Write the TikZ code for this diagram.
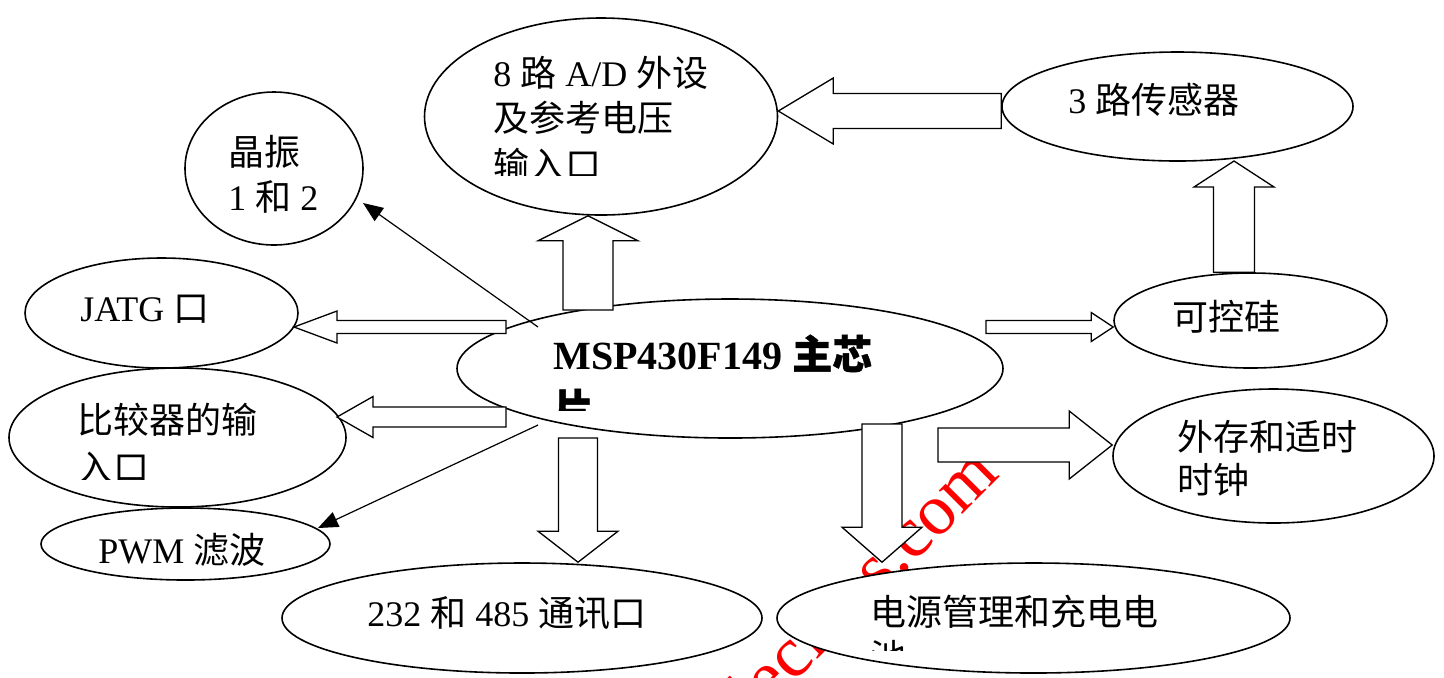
\documentclass[tikz,border=0pt]{standalone}
\usepackage{fontspec}
\setmainfont{Liberation Serif}
\newfontfamily\zh{Noto Sans CJK SC}
\newfontfamily\zhb[FakeBold=1]{Noto Sans CJK SC}
\usetikzlibrary{shapes.geometric,calc,arrows.meta}
\tikzset{
  ell/.style={draw, ellipse, fill=white, line width=0.8pt, inner sep=0pt},
  lbl/.style={anchor=base west, inner sep=0pt, font=\fontsize{18pt}{23pt}\selectfont},
  mainlbl/.style={anchor=base west, inner sep=0pt, font=\fontsize{20pt}{24pt}\selectfont\bfseries},
  barrow/.style={draw, fill=white, line width=0.65pt, line join=miter},
  tline/.style={line width=0.6pt, -{Triangle[length=10pt,width=8pt]}},
  wmark/.style={text=red, inner sep=0pt, font=\fontsize{36pt}{40pt}\selectfont}
}
% #1 start, #2 tip, #3 shaft half width, #4 head half width, #5 head length
\newcommand\blockarrow[5]{%
  \draw[barrow] let \p1=(#1), \p2=(#2), \n1={atan2(\y2-\y1,\x2-\x1)} in
    ($(\p1)+({\n1+90}:#3)$)
    -- ($(\p2)+({\n1+180}:#5)+({\n1+90}:#3)$)
    -- ($(\p2)+({\n1+180}:#5)+({\n1+90}:#4)$)
    -- (\p2)
    -- ($(\p2)+({\n1+180}:#5)+({\n1-90}:#4)$)
    -- ($(\p2)+({\n1+180}:#5)+({\n1-90}:#3)$)
    -- ($(\p1)+({\n1-90}:#3)$) -- cycle;}
\begin{document}
\begin{tikzpicture}[x=0.5pt,y=-0.5pt]
\fill[white] (0,0) rectangle (1444,677);
\useasboundingbox (0,0) rectangle (1444,677);

% watermark (behind everything)
\node[wmark, rotate=45] (wm) at (790,652) {www.elecfans.com};

% ellipses
\node[ell, minimum width=176.5pt, minimum height=98.5pt] (ad)   at (601,116.5) {};
\node[ell, minimum width=89pt,    minimum height=76.5pt] (xtal) at (274,168.5) {};
\node[ell, minimum width=175.5pt, minimum height=54.5pt] (sen)  at (1177.5,106.5) {};
\node[ell, minimum width=136.5pt, minimum height=47.5pt] (scr)  at (1250.5,320.5) {};
\node[ell, minimum width=136.5pt, minimum height=55pt]   (jatg) at (161.5,313) {};
\node[ell, minimum width=168.5pt, minimum height=69.5pt] (cmp)  at (177.5,437.5) {};
\node[ell, minimum width=144.5pt, minimum height=36pt]   (pwm)  at (185.5,544) {};
\node[ell, minimum width=240pt,   minimum height=55pt]   (com)  at (522,618) {};
\node[ell, minimum width=256.5pt, minimum height=55pt]   (pwr)  at (1033.5,618) {};
\node[ell, minimum width=160.5pt, minimum height=67pt]   (ext)  at (1273.5,456) {};
\node[ell, minimum width=273pt,   minimum height=69.5pt] (main) at (730,368.5) {};

% block arrows
\blockarrow{588,310}{588,0 |- ad.south}{12.5pt}{25pt}{12.5pt}
\blockarrow{sen.west |- 0,111}{ad.east |- 0,111}{8.75pt}{16.5pt}{27.5pt}
\blockarrow{1234,0 |- scr.north}{1234,161}{10.25pt}{20pt}{13pt}
\blockarrow{986,327}{scr.west |- 0,327}{3.25pt}{7.25pt}{11pt}
\blockarrow{938,445}{ext.west |- 0,445}{8.5pt}{17pt}{21.5pt}
\blockarrow{882,424}{882,0 |- pwr.north}{10pt}{20pt}{17.5pt}
\blockarrow{578,438}{578,0 |- com.north}{9.75pt}{20pt}{15.5pt}
\blockarrow{506,327}{294,327}{3.25pt}{8pt}{21.5pt}
\blockarrow{506,417}{337,417}{5pt}{10.25pt}{18pt}

% labels
\node[lbl] (tad1) at (493,86) {8 {\zh 路} A/D {\zh 外设}};
\node[lbl] (tad2) at (493,131) {\zh 及参考电压};
\begin{scope}
  \clip (480,140) rectangle (760,175);
  \node[lbl] (tad3) at (493,178) {\zh 输入口};
\end{scope}
\node[lbl] (tx1) at (228,165) {\zh 晶振};
\node[lbl] (tx2) at (228,210) {1 {\zh 和} 2};
\node[lbl] (tsen) at (1068,113) {3 {\zh 路传感器}};
\node[lbl] (tscr) at (1172,330) {\zh 可控硅};
\node[lbl] (tjatg) at (80,321) {JATG {\zh 口}};
\node[lbl] (tcmp1) at (77,433) {\zh 比较器的输};
\begin{scope}
  \clip (60,440) rectangle (300,479);
  \node[lbl] (tcmp2) at (77,481) {\zh 入口};
\end{scope}
\node[lbl] (tpwm) at (98,563) {PWM {\zh 滤波}};
\node[lbl] (tcom) at (367,626) {232 {\zh 和} 485 {\zh 通讯口}};
\node[lbl] (tpwr1) at (870,625) {\zh 电源管理和充电电};
\begin{scope}
  \clip (860,635) rectangle (1000,650);
  \node[lbl] (tpwr2) at (870,670) {\zh 池};
\end{scope}
\node[lbl] (text1) at (1177,450) {\zh 外存和适时};
\node[lbl] (text2) at (1177,493) {\zh 时钟};
\node[mainlbl] (tmain1) at (553,369) {MSP430F149 {\zhb 主芯}};
\begin{scope}
  \clip (540,380) rectangle (640,410);
  \node[mainlbl] (tmain2) at (553,423) {\zhb 片};
\end{scope}

% thin arrows
\coordinate (l1s) at (538,327);
\coordinate (l1e) at (363,203);
\coordinate (l2s) at (538,425);
\coordinate (l2e) at (318,528);
\draw[tline] (l1s) -- (l1e);
\draw[tline] (l2s) -- (l2e);
\end{tikzpicture}
\end{document}
